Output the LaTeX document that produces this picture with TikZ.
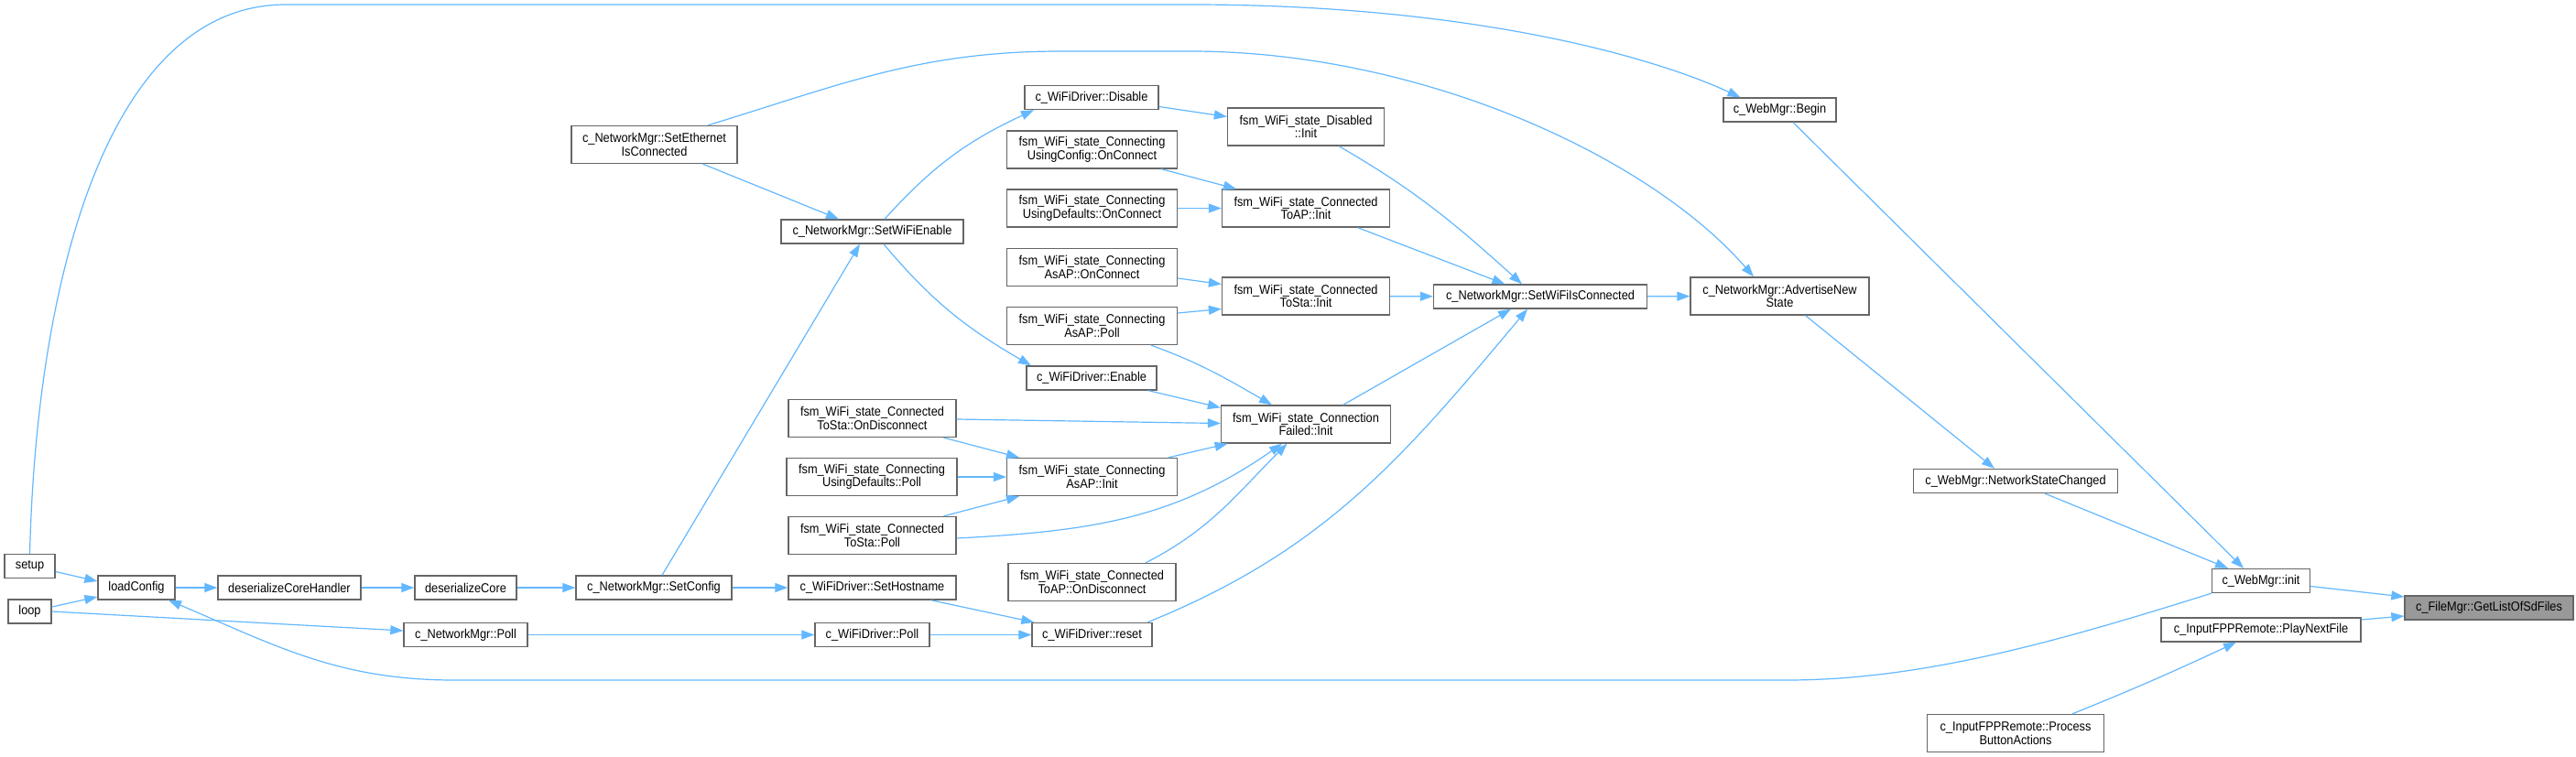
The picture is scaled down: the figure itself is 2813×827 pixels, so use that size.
\documentclass[tikz,border=0pt]{standalone}
\usepackage{fontspec}
\setmainfont{Liberation Sans}[FakeStretch=0.9]
\usetikzlibrary{arrows.meta}
\definecolor{edgec}{HTML}{63B8FF}
\definecolor{borderc}{HTML}{666666}
\definecolor{rootc}{HTML}{999999}
\newcommand\mkbox[7][]{\node[box,#1,minimum width=#5pt,minimum height=#6pt] (#2) at (#3,#4) {#7};}
\begin{document}
\begin{tikzpicture}[x=1pt,y=-1pt,
  box/.style={draw=borderc,line width=1.3pt,fill=white,inner sep=0pt,align=center,font=\fontsize{14.2pt}{14.6pt}\selectfont},
  edge/.style={draw=edgec,line width=1.2pt,-{Triangle[length=14pt,width=10pt]}}]
\fill[white] (0,0) rectangle (2813,827);
\useasboundingbox (0,0) rectangle (2813,827);
% nodes
\mkbox{setup}{32.5}{618.5}{55}{26}{setup}
\mkbox{loop}{32.5}{668}{47}{26}{loop}
\mkbox{loadcfg}{149}{642}{84}{26}{loadConfig}
\mkbox{dch}{316}{642}{156}{26}{deserializeCoreHandler}
\mkbox{dcore}{508.5}{642}{111}{26}{deserializeCore}
\mkbox{setconfig}{714}{642}{170}{26}{c\_NetworkMgr::SetConfig}
\mkbox{netpoll}{508.5}{693.5}{135}{26}{c\_NetworkMgr::Poll}
\mkbox{seteth}{714.5}{158}{181}{41}{c\_NetworkMgr::SetEthernet\\IsConnected}
\mkbox{setwifien}{952.5}{253}{199}{26}{c\_NetworkMgr::SetWiFiEnable}
\mkbox{disable}{1192}{106.5}{146}{26}{c\_WiFiDriver::Disable}
\mkbox{usingcfg}{1192.5}{163.5}{186}{41}{fsm\_WiFi\_state\_Connecting\\UsingConfig::OnConnect}
\mkbox{usingdef}{1192.5}{227.5}{186}{41}{fsm\_WiFi\_state\_Connecting\\UsingDefaults::OnConnect}
\mkbox{asaponc}{1192.5}{292}{186}{41}{fsm\_WiFi\_state\_Connecting\\AsAP::OnConnect}
\mkbox{asappoll}{1192.5}{356}{186}{41}{fsm\_WiFi\_state\_Connecting\\AsAP::Poll}
\mkbox{enable}{1192}{413}{142}{26}{c\_WiFiDriver::Enable}
\mkbox{tostaond}{952.5}{457}{183}{41}{fsm\_WiFi\_state\_Connected\\ToSta::OnDisconnect}
\mkbox{usingdefpoll}{952}{521}{186}{41}{fsm\_WiFi\_state\_Connecting\\UsingDefaults::Poll}
\mkbox{tostapoll}{952.5}{585}{183}{41}{fsm\_WiFi\_state\_Connected\\ToSta::Poll}
\mkbox{sethost}{952.5}{642}{183}{26}{c\_WiFiDriver::SetHostname}
\mkbox{wpoll}{952.5}{693.5}{125}{26}{c\_WiFiDriver::Poll}
\mkbox{asapinit}{1192.5}{521}{186}{41}{fsm\_WiFi\_state\_Connecting\\AsAP::Init}
\mkbox{toapond}{1192.5}{636}{183}{41}{fsm\_WiFi\_state\_Connected\\ToAP::OnDisconnect}
\mkbox{reset}{1192.5}{693.5}{131}{26}{c\_WiFiDriver::reset}
\mkbox{disinit}{1426}{138.5}{171}{41}{fsm\_WiFi\_state\_Disabled\\::Init}
\mkbox{toapinit}{1426}{227.5}{183}{41}{fsm\_WiFi\_state\_Connected\\ToAP::Init}
\mkbox{tostainit}{1426}{323.5}{183}{41}{fsm\_WiFi\_state\_Connected\\ToSta::Init}
\mkbox{connfail}{1426}{463.5}{185}{41}{fsm\_WiFi\_state\_Connection\\Failed::Init}
\mkbox{swic}{1682}{324}{233}{26}{c\_NetworkMgr::SetWiFiIsConnected}
\mkbox{advert}{1943.5}{323.5}{195}{41}{c\_NetworkMgr::AdvertiseNew\\State}
\mkbox{begin}{1943.5}{120}{123}{26}{c\_WebMgr::Begin}
\mkbox{nsc}{2201}{525.5}{223}{26}{c\_WebMgr::NetworkStateChanged}
\mkbox{init}{2469}{634.5}{107}{26}{c\_WebMgr::init}
\mkbox[fill=rootc]{getlist}{2718}{664}{184}{26}{c\_FileMgr::GetListOfSdFiles}
\mkbox{pnf}{2469}{688}{218}{26}{c\_InputFPPRemote::PlayNextFile}
\mkbox{pba}{2201}{801}{193}{41}{c\_InputFPPRemote::Process\\ButtonActions}
% waypoints
\coordinate (w1) at (1159,56);
\coordinate (w2) at (1300,56);
\coordinate (w3) at (312,5);
\coordinate (w4) at (1300,5);
\coordinate (w5) at (1951,743);
\coordinate (w6) at (496,743);
% edges
\draw[edge] ([yshift=-6pt]setup.east) -- ([yshift=7pt]loadcfg.west);
\draw[edge] ([yshift=5pt]loop.east) -- ([yshift=-10pt]loadcfg.west);
\draw[edge] (loadcfg) -- (dch);
\draw[edge] (dch) -- (dcore);
\draw[edge] (dcore) -- (setconfig);
\draw[edge] (loop.east) -- ([yshift=4.5pt]netpoll.west);
\draw[edge] (netpoll) -- (wpoll);
\draw[edge] (setconfig) -- (sethost);
\draw[edge] ([xshift=9pt]setconfig.north) -- ([xshift=-13.5pt]setwifien.south);
\draw[edge] ([xshift=53pt]seteth.south) -- ([xshift=-36.5pt]setwifien.north);
\draw[edge] ([xshift=13.5pt]setwifien.north) to[out=48,in=205] ([xshift=-63pt]disable.south);
\draw[edge] ([xshift=12.5pt]setwifien.south) to[out=-50,in=150] ([xshift=-66pt]enable.north);
\draw[edge] ([yshift=-10pt]disable.east) -- ([yshift=11pt]disinit.west);
\draw[edge] ([xshift=75.5pt]usingcfg.south) -- ([xshift=-76pt]toapinit.north);
\draw[edge] (usingdef) -- (toapinit);
\draw[edge] ([yshift=-12pt]asaponc.east) -- ([yshift=13pt]tostainit.west);
\draw[edge] ([yshift=14pt]asappoll.east) -- ([yshift=-14pt]tostainit.west);
\draw[edge] ([xshift=64.5pt]asappoll.south) to[out=-20,in=150] ([xshift=-37pt]connfail.north);
\draw[edge] ([xshift=62pt]enable.south) -- ([yshift=-3pt]connfail.north west);
\draw[edge] ([yshift=-1pt]tostaond.east) -- ([yshift=1pt]connfail.west);
\draw[edge] ([xshift=78pt]tostaond.south) -- ([xshift=-79.5pt]asapinit.north);
\draw[edge] (usingdefpoll) -- (asapinit);
\draw[edge] ([xshift=78pt]tostapoll.north) -- ([xshift=-79.5pt]asapinit.south);
\draw[edge] ([xshift=83.5pt]asapinit.north) -- ([xshift=-85.4pt]connfail.south);
\draw[edge] ([yshift=-3pt]tostapoll.east) to[out=3,in=215] ([xshift=-26pt]connfail.south);
\draw[edge] ([xshift=58.5pt]toapond.north) to[out=27,in=225] ([xshift=-20.5pt]connfail.south);
\draw[edge] ([xshift=64pt]sethost.south) -- ([xshift=3pt]reset.north west);
\draw[edge] (wpoll) -- (reset);
\draw[edge] ([xshift=60.5pt]reset.north) to[out=22,in=230] ([xshift=-14pt]swic.south);
\draw[edge] ([xshift=40.6pt]connfail.north) -- ([xshift=-32pt]swic.south);
\draw[edge] ([xshift=36pt]disinit.south) to[out=-30,in=138] ([xshift=-20pt]swic.north);
\draw[edge] ([xshift=56.6pt]toapinit.south) -- ([xshift=-38.6pt]swic.north);
\draw[edge] (tostainit) -- (swic);
\draw[edge] (swic) -- (advert);
\draw[edge] ([xshift=58.5pt]seteth.north) to[out=17,in=180] (w1) -- (w2) .. controls (1550,56) and (1800,170) .. ([xshift=-28.5pt]advert.north);
\draw[edge] (setup.north) .. controls (40,300) and (120,5) .. (w3) -- (w4) .. controls (1600,5) and (1800,60) .. ([xshift=-43pt]begin.north);
\draw[edge] ([xshift=14.5pt]begin.south) -- ([xshift=-19pt]init.north);
\draw[edge] ([xshift=28pt]advert.south) -- ([xshift=-23pt]nsc.north);
\draw[edge] ([xshift=32pt]nsc.south) -- ([xshift=-36pt]init.north);
\draw[edge] ([yshift=-6pt]init.east) -- ([yshift=12pt]getlist.west);
\draw[edge] ([yshift=11pt]pnf.east) -- ([yshift=-9pt]getlist.west);
\draw[edge] ([xshift=62pt]pba.north) to[out=22,in=205] ([xshift=-27pt]pnf.south);
\draw[edge] (init.south west) .. controls (2250,700) and (2100,743) .. (w5) -- (w6) to[out=180,in=-23] ([xshift=35pt]loadcfg.south);
\end{tikzpicture}
\end{document}
